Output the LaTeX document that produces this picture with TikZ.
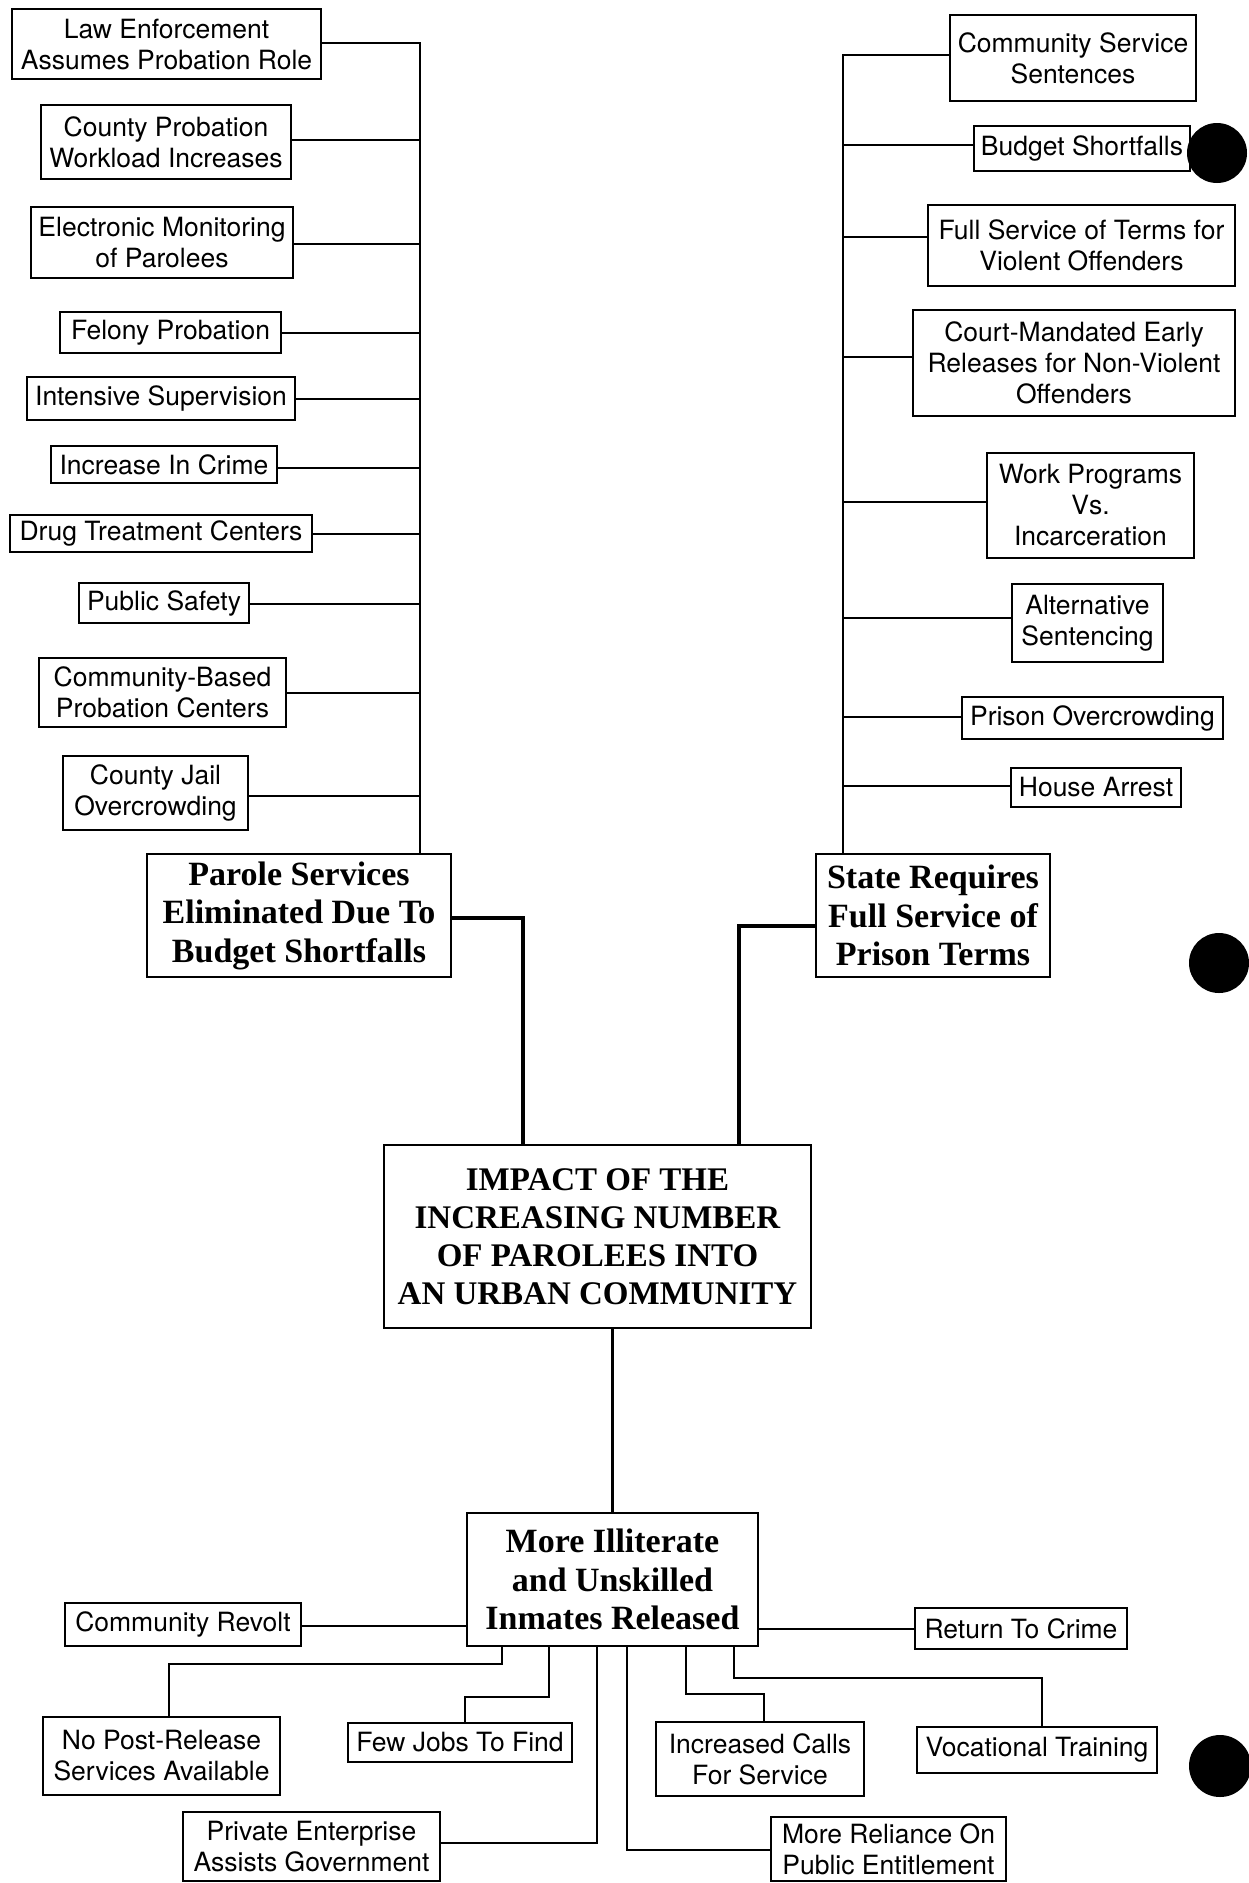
\documentclass[tikz,border=0pt]{standalone}
\usepackage{fontspec}
\setmainfont{TeX Gyre Heros}
\newfontfamily\headfont{Liberation Serif}
\tikzset{
  sbox/.style={draw, line width=2.2pt, inner sep=0pt, align=center,
    font=\fontsize{26.5}{31}\selectfont},
  hbox/.style={draw, line width=2.2pt, inner sep=0pt, align=center,
    font=\headfont\bfseries\fontsize{34}{38.5}\selectfont},
  conn/.style={line width=2pt},
  thickconn/.style={line width=4pt},
  midconn/.style={line width=2.8pt},
  hole/.style={fill=black}
}
\begin{document}
\begin{tikzpicture}[x=1pt,y=-1pt]
\fill[white] (0,0) rectangle (1249,1883);
\useasboundingbox (0,0) rectangle (1249,1883);

% trunk / bend coordinates
\coordinate (lt) at (420,0);
\coordinate (rt) at (843,0);
\coordinate (c1) at (523,0);
\coordinate (c2) at (739,0);
\coordinate (b1) at (502,1664);
\coordinate (b2) at (549,1697);
\coordinate (b3) at (597,1843);
\coordinate (b4) at (627,1850);
\coordinate (b5) at (686,1694);
\coordinate (b6) at (734,1678);

% left column
\node[sbox, minimum width=309pt, minimum height=70pt] (le) at (166.5,44) {Law Enforcement\\Assumes Probation Role};
\node[sbox, minimum width=250pt, minimum height=74pt] (cp) at (166,142) {County Probation\\Workload Increases};
\node[sbox, minimum width=262pt, minimum height=71pt] (em) at (162,242.5) {Electronic Monitoring\\of Parolees};
\node[sbox, minimum width=221pt, minimum height=41pt] (fp) at (170.5,332.5) {Felony Probation};
\node[sbox, minimum width=268pt, minimum height=43pt] (is) at (161,398.5) {Intensive Supervision};
\node[sbox, minimum width=226pt, minimum height=37pt] (ic) at (164,464.5) {Increase In Crime};
\node[sbox, minimum width=302pt, minimum height=37pt] (dt) at (161,533.5) {Drug Treatment Centers};
\node[sbox, minimum width=170pt, minimum height=40pt] (ps) at (164,603) {Public Safety};
\node[sbox, minimum width=247pt, minimum height=69pt] (cb) at (162.5,692.5) {Community-Based\\Probation Centers};
\node[sbox, minimum width=185pt, minimum height=74pt] (cj) at (155.5,793) {County Jail\\Overcrowding};
\node[hbox, minimum width=304pt, minimum height=123pt] (parole) at (299,915.5) {Parole Services\\Eliminated Due To\\Budget Shortfalls};

% right column
\node[sbox, minimum width=246pt, minimum height=86pt] (cs) at (1073,58) {Community Service\\Sentences};
\node[sbox, minimum width=216pt, minimum height=45pt] (bs) at (1082,148.5) {Budget Shortfalls};
\node[sbox, minimum width=307pt, minimum height=81pt] (fs) at (1081.5,245.5) {Full Service of Terms for\\Violent Offenders};
\node[sbox, minimum width=322pt, minimum height=106pt] (cm) at (1074,363) {Court-Mandated Early\\Releases for Non-Violent\\Offenders};
\node[sbox, minimum width=207pt, minimum height=105pt] (wp) at (1090.5,505.5) {Work Programs\\Vs.\\Incarceration};
\node[sbox, minimum width=151pt, minimum height=78pt] (as) at (1087.5,623) {Alternative\\Sentencing};
\node[sbox, minimum width=261pt, minimum height=42pt] (po) at (1092.5,718) {Prison Overcrowding};
\node[sbox, minimum width=170pt, minimum height=39pt] (ha) at (1096,787.5) {House Arrest};
\node[hbox, minimum width=234pt, minimum height=123pt] (state) at (933,915.5) {State Requires\\Full Service of\\Prison Terms};

% centre
\node[hbox, minimum width=427pt, minimum height=183pt, font=\headfont\bfseries\fontsize{33}{38}\selectfont] (impact) at (597.5,1236.5) {IMPACT OF THE\\INCREASING NUMBER\\OF PAROLEES INTO\\AN URBAN COMMUNITY};
\node[hbox, minimum width=291pt, minimum height=133pt] (mi) at (612.5,1579.5) {More Illiterate\\and Unskilled\\Inmates Released};

% bottom
\node[sbox, minimum width=236pt, minimum height=43pt] (cr) at (183,1624.5) {Community Revolt};
\node[sbox, minimum width=212pt, minimum height=41pt] (rc) at (1021,1628.5) {Return To Crime};
\node[sbox, minimum width=237pt, minimum height=78pt] (np) at (161.5,1756) {No Post-Release\\Services Available};
\node[sbox, minimum width=224pt, minimum height=39pt] (fj) at (460,1742.5) {Few Jobs To Find};
\node[sbox, minimum width=257pt, minimum height=69pt] (pe) at (311.5,1846.5) {Private Enterprise\\Assists Government};
\node[sbox, minimum width=235pt, minimum height=64pt] (mr) at (888.5,1849) {More Reliance On\\Public Entitlement};
\node[sbox, minimum width=208pt, minimum height=74pt] (icf) at (760,1759) {Increased Calls\\For Service};
\node[sbox, minimum width=240pt, minimum height=46pt] (vt) at (1037,1750) {Vocational Training};

% left connectors
\draw[conn] ([yshift=1pt]le.east) coordinate (lej) -- (lej -| lt) -- (parole.north -| lt);
\draw[conn] ([yshift=2pt]cp.east) coordinate (cpj) -- (cpj -| lt);
\draw[conn] ([yshift=-1.5pt]em.east) coordinate (emj) -- (emj -| lt);
\draw[conn] (fp.east) -- (fp.east -| lt);
\draw[conn] (is.east) -- (is.east -| lt);
\draw[conn] ([yshift=-3.5pt]ic.east) coordinate (icj) -- (icj -| lt);
\draw[conn] (dt.east) -- (dt.east -| lt);
\draw[conn] ([yshift=-1pt]ps.east) coordinate (psj) -- (psj -| lt);
\draw[conn] (cb.east) -- (cb.east -| lt);
\draw[conn] ([yshift=-3pt]cj.east) coordinate (cjj) -- (cjj -| lt);

% right connectors
\draw[conn] ([yshift=3pt]cs.west) coordinate (csj) -- (csj -| rt) -- (state.north -| rt);
\draw[conn] ([yshift=3.5pt]bs.west) coordinate (bsj) -- (bsj -| rt);
\draw[conn] ([yshift=8.5pt]fs.west) coordinate (fsj) -- (fsj -| rt);
\draw[conn] ([yshift=6pt]cm.west) coordinate (cmj) -- (cmj -| rt);
\draw[conn] ([yshift=3.5pt]wp.west) coordinate (wpj) -- (wpj -| rt);
\draw[conn] ([yshift=5pt]as.west) coordinate (asj) -- (asj -| rt);
\draw[conn] ([yshift=1pt]po.west) coordinate (poj) -- (poj -| rt);
\draw[conn] ([yshift=1.5pt]ha.west) coordinate (haj) -- (haj -| rt);

% thick connectors to centre
\draw[thickconn] ([yshift=-2.5pt]parole.east) coordinate (pj) -- (pj -| c1) -- (impact.north -| c1);
\draw[thickconn] ([yshift=-10.5pt]state.west) coordinate (sj) -- (sj -| c2) -- (impact.north -| c2);
\draw[midconn] (mi.north) -- (mi.north |- impact.south);

% bottom connectors
\draw[conn] ([yshift=-1.5pt]cr.east) coordinate (crj) -- (crj -| mi.west);
\draw[conn] (rc.west) -- (rc.west -| mi.east);
\draw[conn] ([xshift=7.5pt]np.north) coordinate (npj) -- (npj |- b1) -- (b1) -- (b1 |- mi.south);
\draw[conn] ([xshift=5pt]fj.north) coordinate (fjj) -- (fjj |- b2) -- (b2) -- (b2 |- mi.south);
\draw[conn] ([yshift=3.5pt]pe.east) coordinate (pej) -- (pej -| b3) -- (b3 |- mi.south);
\draw[conn] ([yshift=-1pt]mr.west) coordinate (mrj) -- (mrj -| b4) -- (b4 |- mi.south);
\draw[conn] ([xshift=4pt]icf.north) coordinate (icfj) -- (icfj |- b5) -- (b5) -- (b5 |- mi.south);
\draw[conn] ([xshift=5pt]vt.north) coordinate (vtj) -- (vtj |- b6) -- (b6) -- (b6 |- mi.south);

% punch holes of the scanned page
\fill[hole] (1217,153) circle (30pt);
\fill[hole] (1219,963) circle (30pt);
\fill[hole] (1220,1766) circle (31pt);
\end{tikzpicture}
\end{document}
